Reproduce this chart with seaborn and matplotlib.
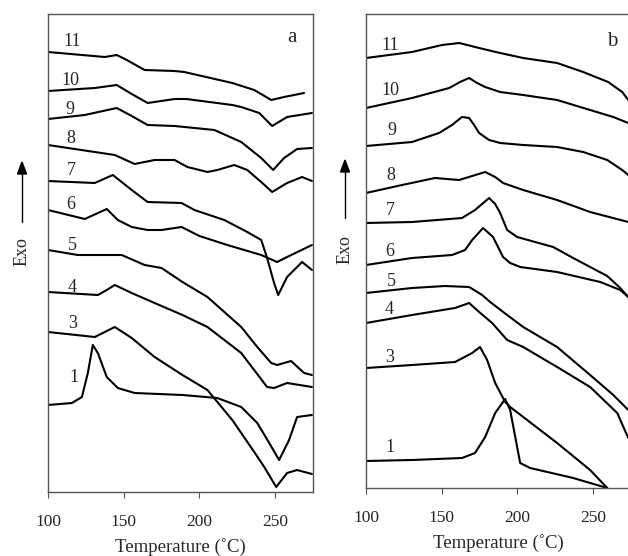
import seaborn as sns
import matplotlib.pyplot as plt
import pandas as pd

# DSC traces: temperature (degC) and signal (arbitrary units)
# Panel a
a11_t = [100, 137.5, 145.4, 152.0, 163.8, 183.6, 190.0, 221.7, 236.2, 247.4, 255.9, 269.1]
a11_y = [440, 435, 437, 432, 422, 421, 420, 409, 402, 392, 395, 399]
a10_t = [100, 130.9, 145.4, 155.3, 165.8, 183.6, 191.4, 221.7, 227.6, 239.5, 248.0, 257.9, 274.3]
a10_y = [401, 404, 407, 398, 389, 393, 393, 387, 385, 379, 366, 375, 379]
a9_t = [100, 124.3, 145.4, 155.3, 165.8, 183.6, 209.9, 227.6, 240.8, 248.7, 255.9, 264.5, 274.3]
a9_y = [373, 377, 384, 376, 367, 366, 362, 350, 334, 322, 334, 343, 344]
a8_t = [100, 130.9, 144.1, 157.2, 170.4, 183.6, 192.1, 205.3, 211.8, 223.0, 231.6, 240.8, 248.0, 257.9, 267.8, 274.3]
a8_y = [347, 340, 337, 328, 332, 332, 325, 320, 322, 327, 322, 310, 300, 309, 315, 311]
a7_t = [100, 130.9, 142.8, 155.3, 165.8, 188.2, 196.7, 216.4, 231.6, 240.8, 244.7, 249.3, 252.0, 257.9, 267.8, 274.3]
a7_y = [311, 309, 317, 302, 290, 289, 282, 272, 260, 252, 234, 209, 197, 215, 230, 222]
a6_t = [100, 124.3, 138.8, 146.1, 155.3, 165.8, 175.0, 188.2, 200.0, 218.4, 240.8, 251.3, 257.9, 274.3]
a6_y = [282, 273, 283, 272, 265, 262, 262, 265, 256, 247, 237, 230, 235, 247]
a5_t = [100, 119.7, 148.7, 163.8, 175.0, 188.8, 205.3, 227.6, 238.2, 247.4, 251.3, 260.5, 269.1, 274.3]
a5_y = [242, 237, 237, 227, 224, 210, 195, 165, 145, 129, 127, 131, 119, 117]
a4_t = [100, 132.9, 138.8, 144.1, 155.3, 170.4, 188.8, 205.3, 227.6, 244.7, 249.3, 257.9, 274.3]
a4_y = [200, 197, 202, 207, 199, 189, 177, 165, 139, 105, 104, 109, 105]
a3_t = [100, 130.9, 144.1, 155.3, 170.4, 188.8, 205.3, 221.7, 236.2, 242.8, 250.7, 257.9, 264.5, 274.3]
a3_y = [160, 155, 165, 154, 135, 117, 102, 72, 40, 25, 5, 19, 22, 18]
a1_t = [100, 115.8, 122.4, 126.3, 129.6, 132.9, 138.8, 146.1, 157.2, 188.8, 211.8, 227.6, 238.2, 246.1, 252.6, 259.2, 264.5, 274.3]
a1_y = [87, 89, 95, 119, 147, 139, 115, 104, 99, 97, 94, 85, 69, 49, 32, 52, 75, 77]

# Panel b
b11_t = [100, 130.4, 150.2, 161.5, 174.7, 188.6, 203.8, 226.2, 243.4, 259.9, 269.2, 273.2]
b11_y = [430, 436, 443, 445, 440, 435, 430, 425, 416, 406, 396, 388]
b10_t = [100, 130.4, 154.9, 162.1, 168.1, 173.4, 178.7, 188.6, 203.8, 226.2, 248.0, 263.3, 273.2]
b10_y = [380, 390, 400, 406, 410, 405, 401, 396, 393, 388, 378, 371, 365]
b9_t = [100, 130.4, 148.2, 156.8, 163.4, 168.1, 171.4, 174.7, 181.3, 188.6, 203.8, 226.2, 243.4, 259.3, 269.2, 273.2]
b9_y = [342, 346, 355, 363, 371, 370, 363, 355, 348, 345, 343, 341, 336, 328, 318, 313]
b8_t = [100, 123.8, 145.6, 161.5, 178.7, 185.3, 190.5, 203.8, 226.2, 248.0, 273.2]
b8_y = [295, 303, 310, 308, 316, 311, 305, 298, 288, 276, 266]
b7_t = [100, 130.4, 163.4, 172.0, 181.3, 185.3, 188.6, 193.2, 199.8, 223.6, 236.8, 259.3, 267.9, 273.2]
b7_y = [265, 266, 270, 278, 290, 284, 275, 258, 251, 241, 230, 212, 200, 191]
b6_t = [100, 130.4, 156.8, 165.4, 170.1, 177.3, 183.9, 190.5, 195.2, 201.8, 226.2, 254.7, 267.9, 273.2]
b6_y = [223, 230, 233, 238, 248, 260, 251, 231, 225, 221, 216, 206, 198, 191]
b5_t = [100, 130.4, 152.2, 168.1, 176.7, 182.0, 193.2, 203.8, 226.2, 248.0, 263.3, 273.2]
b5_y = [195, 200, 202, 201, 193, 186, 173, 161, 141, 113, 93, 78]
b4_t = [100, 130.4, 158.8, 168.1, 174.7, 183.3, 193.2, 203.8, 226.2, 248.0, 265.9, 273.2]
b4_y = [165, 173, 180, 185, 176, 165, 148, 141, 121, 101, 75, 50]
b3_t = [100, 130.4, 158.8, 170.1, 175.3, 180.0, 185.3, 191.9, 195.2, 226.2, 248.0, 259.3]
b3_y = [120, 123, 126, 135, 141, 128, 105, 86, 81, 45, 18, 0]
b1_t = [100, 130.4, 163.4, 172.0, 178.7, 185.3, 191.9, 195.2, 201.8, 208.4, 236.8, 259.3]
b1_y = [27, 28, 30, 35, 51, 75, 89, 78, 25, 20, 10, 0]

curve_names = ["11", "10", "9", "8", "7", "6", "5", "4", "3", "1"]
panel_a = [(a11_t, a11_y), (a10_t, a10_y), (a9_t, a9_y), (a8_t, a8_y), (a7_t, a7_y),
           (a6_t, a6_y), (a5_t, a5_y), (a4_t, a4_y), (a3_t, a3_y), (a1_t, a1_y)]
panel_b = [(b11_t, b11_y), (b10_t, b10_y), (b9_t, b9_y), (b8_t, b8_y), (b7_t, b7_y),
           (b6_t, b6_y), (b5_t, b5_y), (b4_t, b4_y), (b3_t, b3_y), (b1_t, b1_y)]

# curve number labels (temperature, signal)
lab_a_t = [115.8, 114.5, 114.5, 115.1, 115.1, 115.1, 116.4, 115.8, 116.4, 117.1]
lab_a_y = [450, 412, 383, 354, 322, 288, 247, 205, 169, 115]
lab_b_t = [115.9, 115.9, 117.2, 116.5, 115.9, 115.9, 116.5, 115.2, 115.9, 115.9]
lab_b_y = [443, 398, 358, 313, 278, 236, 206, 178, 130, 40]

xticks = [100, 150, 200, 250]

sns.set_style("white")
plt.rcParams["font.family"] = ["Liberation Serif", "DejaVu Serif"]


def long_table(curves):
    rows = []
    for name, (t, y) in zip(curve_names, curves):
        for ti, yi in zip(t, y):
            rows.append({"curve": name, "T": ti, "signal": yi})
    return pd.DataFrame(rows)


fig = plt.figure(figsize=(6.28, 5.56), dpi=100)
ax_a = fig.add_axes([48 / 628, 64 / 556, 265 / 628, 478 / 556])
ax_b = fig.add_axes([366 / 628, 68 / 556, 265 / 628, 474 / 556])

panels = [
    (ax_a, panel_a, lab_a_t, lab_a_y, "a", 261.2, 454, 478),
    (ax_b, panel_b, lab_b_t, lab_b_y, "b", 262.6, 446, 474),
]

for ax, curves, lt, ly, letter, lx, lyy, ytop in panels:
    df = long_table(curves)
    sns.lineplot(data=df, x="T", y="signal", units="curve", estimator=None,
                 color="black", linewidth=1.5, sort=False, ax=ax, legend=False,
                 solid_joinstyle="round")
    for name, tx, ty in zip(curve_names, lt, ly):
        ax.text(tx, ty, name, fontsize=13, ha="center", va="center")
    ax.text(lx, lyy, letter, fontsize=15, ha="center", va="center")
    ax.set_xlim(100, 275)
    ax.set_ylim(0, ytop)
    ax.set_xticks(xticks)
    ax.set_yticks([])
    ax.tick_params(axis="x", direction="out", length=4.5, width=0.8, pad=11,
                   labelsize=12.5, color="#555555", bottom=True)
    ax.set_xlabel("Temperature (˚C)", fontsize=13.5, labelpad=6)
    ax.set_ylabel("")
    for sp in ax.spines.values():
        sp.set_color("#555555")
        sp.set_linewidth(1.0)

# "Exo" labels with upward arrows
for xpx, ypx_lo, ypx_hi, ypx_txt in [(22, 222, 162, 252), (345, 218, 160, 250)]:
    fig.add_artist(plt.Line2D([xpx / 628, xpx / 628],
                              [1 - ypx_lo / 556, 1 - (ypx_hi + 10) / 556],
                              color="black", linewidth=1.0))
    fig.add_artist(plt.Polygon([[(xpx - 4.5) / 628, 1 - (ypx_hi + 12) / 556],
                                [(xpx + 4.5) / 628, 1 - (ypx_hi + 12) / 556],
                                [xpx / 628, 1 - ypx_hi / 556]],
                               closed=True, color="black"))
    fig.text(xpx / 628, 1 - ypx_txt / 556, "Exo", rotation=90, fontsize=13,
             ha="center", va="center")

fig.savefig("out.png", dpi=100)
